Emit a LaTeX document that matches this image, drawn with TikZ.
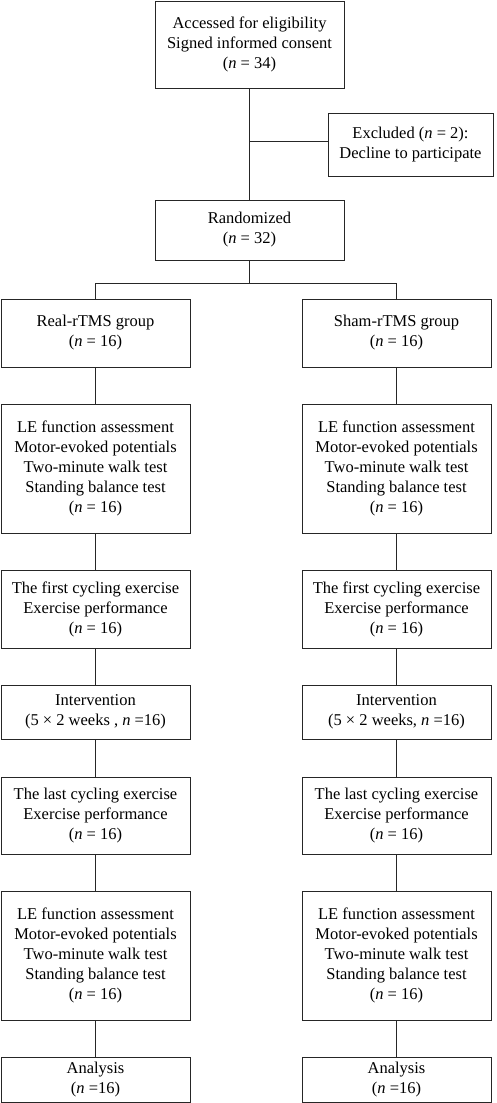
\documentclass[tikz,border=0pt]{standalone}
\usepackage{fontspec}
\setmainfont{Liberation Serif}
\newcommand{\nn}{\textit{n}}
\begin{document}
\begin{tikzpicture}[x=1pt,y=-1pt,
  box/.style={draw=black!85,line width=0.9pt,rectangle,inner sep=0pt,align=center,
    font=\fontsize{16.5}{20}\selectfont},
  link/.style={draw=black!85,line width=0.9pt}]
\useasboundingbox (0,0) rectangle (496,1103);
\node[box,minimum width=189,minimum height=87] (top) at (249.5,44.5) {Accessed for eligibility\\Signed informed consent\\(\nn{} = 34)};
\node[box,minimum width=165,minimum height=63] (excl) at (410.5,144.5) {Excluded (\nn{} = 2):\\Decline to participate};
\node[box,minimum width=189,minimum height=60] (rand) at (249.5,230) {Randomized\\(\nn{} = 32)};
\coordinate (jx) at (249.5,141);
\coordinate (split) at (249.5,283);
% left column
\node[box,minimum width=189,minimum height=68] (realg) at (95.5,333) {Real-rTMS group\\(\nn{} = 16)};
\node[box,minimum width=189,minimum height=129] (lea) at (95.5,468.5) {LE function assessment\\Motor-evoked potentials\\Two-minute walk test\\Standing balance test\\(\nn{} = 16)};
\node[box,minimum width=189,minimum height=78] (fa) at (95.5,609) {The first cycling exercise\\Exercise performance\\(\nn{} = 16)};
\node[box,minimum width=189,minimum height=54] (ia) at (95.5,712) {Intervention\\(5 × 2 weeks , \nn{} =16)};
\node[box,minimum width=189,minimum height=77] (la) at (95.5,815.5) {The last cycling exercise\\Exercise performance\\(\nn{} = 16)};
\node[box,minimum width=189,minimum height=129] (lea2) at (95.5,955.5) {LE function assessment\\Motor-evoked potentials\\Two-minute walk test\\Standing balance test\\(\nn{} = 16)};
\node[box,minimum width=189,minimum height=45] (aa) at (95.5,1079.5) {Analysis\\(\nn{} =16)};
% right column
\node[box,minimum width=189,minimum height=68] (shamg) at (396.5,333) {Sham-rTMS group\\(\nn{} = 16)};
\node[box,minimum width=189,minimum height=129] (leb) at (396.5,468.5) {LE function assessment\\Motor-evoked potentials\\Two-minute walk test\\Standing balance test\\(\nn{} = 16)};
\node[box,minimum width=189,minimum height=78] (fb) at (396.5,609) {The first cycling exercise\\Exercise performance\\(\nn{} = 16)};
\node[box,minimum width=189,minimum height=54] (ib) at (396.5,712) {Intervention\\(5 × 2 weeks, \nn{} =16)};
\node[box,minimum width=189,minimum height=77] (lb) at (396.5,815.5) {The last cycling exercise\\Exercise performance\\(\nn{} = 16)};
\node[box,minimum width=189,minimum height=129] (leb2) at (396.5,955.5) {LE function assessment\\Motor-evoked potentials\\Two-minute walk test\\Standing balance test\\(\nn{} = 16)};
\node[box,minimum width=189,minimum height=45] (ab) at (396.5,1079.5) {Analysis\\(\nn{} =16)};
% connectors
\draw[link] (top.south) -- (rand.north);
\draw[link] (jx) -- (excl.west |- jx);
\draw[link] (rand.south) -- (split);
\draw[link] (split) -| (realg.north);
\draw[link] (split) -| (shamg.north);
\draw[link] (realg) -- (lea) -- (fa) -- (ia) -- (la) -- (lea2) -- (aa);
\draw[link] (shamg) -- (leb) -- (fb) -- (ib) -- (lb) -- (leb2) -- (ab);
\end{tikzpicture}
\end{document}
